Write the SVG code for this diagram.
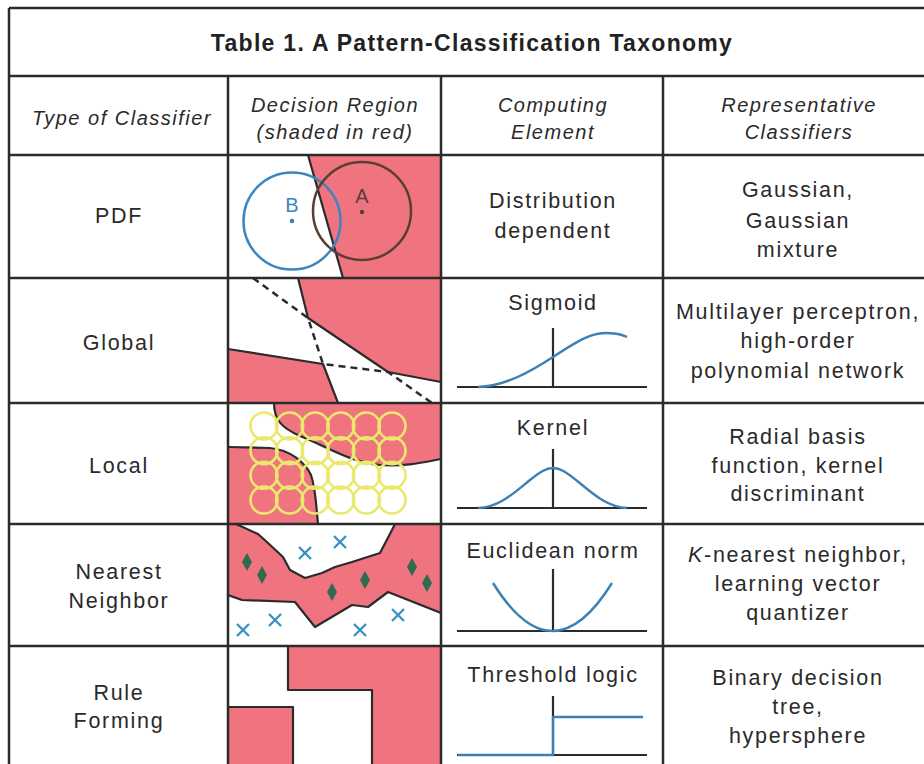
<svg xmlns="http://www.w3.org/2000/svg" width="924" height="764" viewBox="0 0 924 764">
<defs>
<style>
.grid{stroke:#2b2b2b;stroke-width:2.5;fill:none}
.t{font-family:"Liberation Sans",Arial,sans-serif;font-size:21.5px;letter-spacing:1.7px;fill:#2a2a2a;text-anchor:middle}
.h{font-family:"Liberation Sans",Arial,sans-serif;font-size:20px;letter-spacing:1.5px;font-style:italic;fill:#2a2a2a;text-anchor:middle}
.title{font-family:"Liberation Sans",Arial,sans-serif;font-size:23px;letter-spacing:1.3px;font-weight:bold;fill:#222;text-anchor:middle}
.red{fill:#ef7480;stroke:none}
.bd{fill:none;stroke:#2b2b2b;stroke-width:2.2;stroke-linejoin:round}
.axis{stroke:#2b2b2b;stroke-width:2.2;fill:none}
.curve{stroke:#3d80b4;stroke-width:2.4;fill:none}
.yc{fill:none;stroke:#ebe86e;stroke-width:2.6}
.dia{fill:#2f6b4c}
.x{stroke:#3a92c4;stroke-width:2.4;fill:none}
</style>
<clipPath id="c1"><rect x="228" y="155" width="213" height="123"/></clipPath>
<clipPath id="c2"><rect x="228" y="278" width="213" height="125"/></clipPath>
<clipPath id="c3"><rect x="228" y="403" width="213" height="121"/></clipPath>
<clipPath id="c4"><rect x="228" y="524" width="213" height="122"/></clipPath>
<clipPath id="c5"><rect x="228" y="646" width="213" height="118"/></clipPath>
</defs>
<rect width="924" height="764" fill="#ffffff"/>

<!-- decision region drawings -->
<g id="pdf-region" clip-path="url(#c1)">
<polygon class="red" points="308,155 441,155 441,278 343,278"/>
<line class="bd" x1="308" y1="155" x2="343" y2="278"/>
<circle cx="292" cy="221" r="48.5" fill="none" stroke="#3a86c0" stroke-width="2.5"/>
<circle cx="362" cy="211" r="49" fill="none" stroke="#5a3e36" stroke-width="2.5"/>
<circle cx="292" cy="221" r="2.3" fill="#3a86c0"/>
<circle cx="362" cy="212" r="2.3" fill="#5a3e36"/>
<text x="292" y="212" style="font-family:'Liberation Sans',Arial,sans-serif;font-size:20px;fill:#3a86c0;text-anchor:middle">B</text>
<text x="362" y="203" style="font-family:'Liberation Sans',Arial,sans-serif;font-size:20px;fill:#5a3e36;text-anchor:middle">A</text>
</g>

<g id="global-region" clip-path="url(#c2)">
<polygon class="red" points="298,278 308,318 388,372 441,382 441,278"/>
<polygon class="red" points="228,349 323,364 338,403 228,403"/>
<polyline class="bd" points="298,278 308,318 388,372 441,382"/>
<polyline class="bd" points="228,349 323,364 338,403"/>
<polyline points="253,278 308,318 323,364 388,372 432,403" fill="none" stroke="#2b2b2b" stroke-width="2.5" stroke-dasharray="7,5"/>
</g>

<g id="local-region" clip-path="url(#c3)">
<path class="red" d="M274,403 C274,420 282,428 300,436 C330,448 350,462 380,465 C405,467 425,462 441,459 L441,403 Z"/>
<path class="red" d="M228,447 L270,448 C290,450 305,462 311,475 C316,490 316,505 318,524 L228,524 Z"/>
<path class="bd" d="M274,403 C274,420 282,428 300,436 C330,448 350,462 380,465 C405,467 425,462 441,459"/>
<path class="bd" d="M228,447 L270,448 C290,450 305,462 311,475 C316,490 316,505 318,524"/>
<g class="yc">
<circle cx="264" cy="426" r="13.5"/><circle cx="289.6" cy="426" r="13.5"/><circle cx="315.2" cy="426" r="13.5"/><circle cx="340.8" cy="426" r="13.5"/><circle cx="366.4" cy="426" r="13.5"/><circle cx="392" cy="426" r="13.5"/>
<circle cx="264" cy="450.7" r="13.5"/><circle cx="289.6" cy="450.7" r="13.5"/><circle cx="315.2" cy="450.7" r="13.5"/><circle cx="340.8" cy="450.7" r="13.5"/><circle cx="366.4" cy="450.7" r="13.5"/><circle cx="392" cy="450.7" r="13.5"/>
<circle cx="264" cy="475.3" r="13.5"/><circle cx="289.6" cy="475.3" r="13.5"/><circle cx="315.2" cy="475.3" r="13.5"/><circle cx="340.8" cy="475.3" r="13.5"/><circle cx="366.4" cy="475.3" r="13.5"/><circle cx="392" cy="475.3" r="13.5"/>
<circle cx="264" cy="500" r="13.5"/><circle cx="289.6" cy="500" r="13.5"/><circle cx="315.2" cy="500" r="13.5"/><circle cx="340.8" cy="500" r="13.5"/><circle cx="366.4" cy="500" r="13.5"/><circle cx="392" cy="500" r="13.5"/>
</g>
</g>

<g id="nn-region" clip-path="url(#c4)">
<polygon class="red" points="228,524 236,524 258,534 268,543 283,557 290,570 305,578 322,573 335,567 352,562 380,553 392,530 395,524 441,524 441,613 388,592 368,607 352,605 315,627 295,602 242,600 228,595"/>
<polyline class="bd" points="236,524 258,534 268,543 283,557 290,570 305,578 322,573 335,567 352,562 380,553 392,530 395,524"/>
<polyline class="bd" points="228,595 242,600 295,602 315,627 352,605 368,607 388,592 441,613"/>
<g class="dia">
<polygon points="247,553 252,562 247,571 242,562"/>
<polygon points="262,566 267,575 262,584 257,575"/>
<polygon points="332,583 337,592 332,601 327,592"/>
<polygon points="365,571 370,580 365,589 360,580"/>
<polygon points="412,558 417,567 412,576 407,567"/>
<polygon points="427,574 432,583 427,592 422,583"/>
</g>
<path class="x" d="M299,547 l12,12 M311,547 l-12,12 M334,536 l12,12 M346,536 l-12,12 M237,624 l12,12 M249,624 l-12,12 M269,614 l12,12 M281,614 l-12,12 M354,624 l12,12 M366,624 l-12,12 M392,609 l12,12 M404,609 l-12,12"/>
</g>

<g id="rule-region" clip-path="url(#c5)">
<polygon class="red" points="288,646 441,646 441,764 372,764 372,690 288,690"/>
<polygon class="red" points="228,707 293,707 293,764 228,764"/>
<polyline class="bd" points="288,646 288,690 372,690 372,764"/>
<polyline class="bd" points="228,707 293,707 293,764"/>
</g>

<!-- table grid -->
<g id="grid" class="grid">
<line x1="9" y1="8" x2="924" y2="8"/>
<line x1="9" y1="8" x2="9" y2="764"/>
<line x1="9" y1="76" x2="924" y2="76"/>
<line x1="9" y1="155" x2="924" y2="155"/>
<line x1="9" y1="278" x2="924" y2="278"/>
<line x1="9" y1="403" x2="924" y2="403"/>
<line x1="9" y1="524" x2="924" y2="524"/>
<line x1="9" y1="646" x2="924" y2="646"/>
<line x1="228" y1="76" x2="228" y2="764"/>
<line x1="441" y1="76" x2="441" y2="764"/>
<line x1="663" y1="76" x2="663" y2="764"/>
</g>

<g id="title"><text class="title" x="472" y="51">Table 1. A Pattern-Classification Taxonomy</text></g>

<g id="header">
<text class="h" x="122" y="125">Type of Classifier</text>
<text class="h" x="335" y="112">Decision Region</text>
<text class="h" x="335" y="139">(shaded in red)</text>
<text class="h" x="553" y="112">Computing</text>
<text class="h" x="553" y="139">Element</text>
<text class="h" x="799" y="112">Representative</text>
<text class="h" x="799" y="139">Classifiers</text>
</g>

<g id="row-pdf">
<text class="t" x="119" y="223">PDF</text>
<text class="t" x="553" y="208">Distribution</text>
<text class="t" x="553" y="238">dependent</text>
<text class="t" x="798" y="197">Gaussian,</text>
<text class="t" x="798" y="228">Gaussian</text>
<text class="t" x="798" y="257">mixture</text>
</g>

<g id="row-global">
<text class="t" x="119" y="350">Global</text>
<text class="t" x="553" y="310">Sigmoid</text>
<line class="axis" x1="457" y1="387" x2="647" y2="387"/>
<line class="axis" x1="553" y1="328" x2="553" y2="387"/>
<path class="curve" d="M478,387 C505,386 530,372 553,357 S590,333 605,333 S622,335 627,337"/>
<text class="t" x="798" y="319">Multilayer perceptron,</text>
<text class="t" x="798" y="348">high-order</text>
<text class="t" x="798" y="378">polynomial network</text>
</g>

<g id="row-local">
<text class="t" x="119" y="473">Local</text>
<text class="t" x="553" y="435">Kernel</text>
<line class="axis" x1="457" y1="508" x2="647" y2="508"/>
<line class="axis" x1="553" y1="449" x2="553" y2="508"/>
<path class="curve" d="M478,508 C500,507 515,492 530,480 C540,472 546,468 553,468 C560,468 566,472 576,480 C591,492 606,507 627,508"/>
<text class="t" x="798" y="444">Radial basis</text>
<text class="t" x="798" y="473">function, kernel</text>
<text class="t" x="798" y="501">discriminant</text>
</g>

<g id="row-nn">
<text class="t" x="119" y="579">Nearest</text>
<text class="t" x="119" y="608">Neighbor</text>
<text class="t" x="553" y="558">Euclidean norm</text>
<line class="axis" x1="457" y1="631" x2="647" y2="631"/>
<line class="axis" x1="553" y1="569" x2="553" y2="631"/>
<path class="curve" d="M493,583 Q552.5,679 612,583"/>
<text class="t" x="798" y="562"><tspan font-style="italic">K</tspan>-nearest neighbor,</text>
<text class="t" x="798" y="591">learning vector</text>
<text class="t" x="798" y="620">quantizer</text>
</g>

<g id="row-rule">
<text class="t" x="119" y="700">Rule</text>
<text class="t" x="119" y="728">Forming</text>
<text class="t" x="553" y="682">Threshold logic</text>
<line class="axis" x1="457" y1="755" x2="647" y2="755"/>
<line class="axis" x1="553" y1="696" x2="553" y2="755"/>
<polyline class="curve" points="458,755 553,755 553,717 643,717"/>
<text class="t" x="798" y="685">Binary decision</text>
<text class="t" x="798" y="714">tree,</text>
<text class="t" x="798" y="743">hypersphere</text>
</g>
</svg>
